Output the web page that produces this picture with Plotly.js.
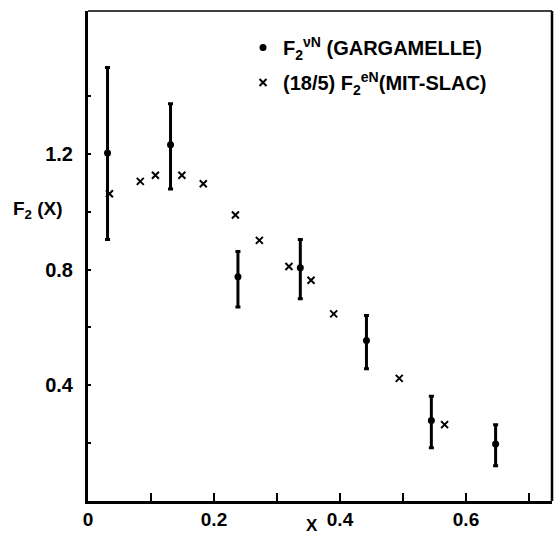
<!DOCTYPE html>
<html><head><meta charset="utf-8">
<script src="https://cdn.plot.ly/plotly-3.0.1.min.js"></script>
<style>body{margin:0;background:#fff}#c{width:560px;height:537px}</style>
</head><body><div id="c"></div>
<script>
// Gargamelle (neutrino) F2 data with asymmetric error bars
const garX = [0.031, 0.131, 0.238, 0.337, 0.442, 0.545, 0.647];
const garY = [1.203, 1.232, 0.775, 0.806, 0.555, 0.278, 0.197];
const garErrUp = [0.296, 0.141, 0.088, 0.098, 0.086, 0.084, 0.067];
const garErrDown = [0.299, 0.153, 0.104, 0.107, 0.098, 0.094, 0.075];
// MIT-SLAC (18/5) F2 eN
const slacX = [0.034, 0.083, 0.107, 0.149, 0.183, 0.234, 0.272, 0.319, 0.354, 0.390, 0.494, 0.566];
const slacY = [1.062, 1.105, 1.126, 1.126, 1.097, 0.989, 0.901, 0.811, 0.763, 0.647, 0.424, 0.264];
// Tick labels
const xLabelVals = [0, 0.2, 0.4, 0.6];
const xLabelText = ['0', '0.2', '0.4', '0.6'];
const xMarkVals = [0.1, 0.3, 0.5, 0.7];
const yLabelVals = [0.4, 0.8, 1.2];
const yLabelText = ['0.4', '0.8', '1.2'];
const yMarkVals = [0.2, 0.4, 0.6, 0.8, 1.0, 1.2, 1.4];
const garName = 'F<sub>2</sub><sup>νN</sup> (GARGAMELLE)';
const slacName = '(18/5) F<sub>2</sub><sup>eN</sup>(MIT-SLAC)';

const FONT = 'Liberation Sans, Arial, Helvetica, sans-serif';
const L = 88, R = 8, T = 11, B = 36, W = 560, H = 537;
const pw = W - L - R, ph = H - T - B;
const px = v => (v - L) / pw;
const py = v => (H - B - v) / ph;

const traces = [
  {
    x: garX, y: garY, type: 'scatter', mode: 'markers', name: garName,
    legendgroup: 'a',
    marker: {symbol: 'circle', size: 7, color: '#000'},
    error_y: {type: 'data', symmetric: false, array: garErrUp, arrayminus: garErrDown,
              color: '#000', thickness: 3, width: 2.5}
  },
  {
    x: slacX, y: slacY, type: 'scatter', mode: 'markers', name: slacName,
    legendgroup: 'b',
    marker: {symbol: 'x-thin', size: 7, color: '#000', line: {width: 2, color: '#000'}}
  }
];

const layout = {
  width: W, height: H,
  margin: {l: L, r: R, t: T, b: B},
  paper_bgcolor: '#fff', plot_bgcolor: '#fff',
  font: {family: FONT, color: '#000', size: 16},
  showlegend: true,
  legend: {
    x: px(243), y: py(28), xanchor: 'left', yanchor: 'top',
    bgcolor: 'rgba(0,0,0,0)', borderwidth: 0,
    font: {family: FONT, size: 20, weight: 'bold', color: '#000'},
    traceorder: 'grouped', tracegroupgap: 6
  },
  xaxis: {
    range: [0, pw / 630], showgrid: false, zeroline: false,
    showline: true, linewidth: 2.5, linecolor: '#000',
    tickmode: 'array', tickvals: xLabelVals, ticktext: xLabelText,
    ticks: 'inside', ticklen: 8, tickwidth: 2.5, tickcolor: '#000',
    tickfont: {family: FONT, size: 19, weight: 'bold'},
    minor: {tickmode: 'array', tickvals: xMarkVals, ticks: 'inside',
            ticklen: 8, tickwidth: 2.5, tickcolor: '#000', showgrid: false},
    fixedrange: true
  },
  yaxis: {
    range: [0, ph / 289.25], showgrid: false, zeroline: false,
    showline: true, linewidth: 3, linecolor: '#000',
    tickmode: 'array', tickvals: yLabelVals, ticktext: yLabelText,
    ticks: 'outside', ticklen: 8, tickwidth: 1, tickcolor: 'rgba(0,0,0,0)',
    tickfont: {family: FONT, size: 20, weight: 'bold'},
    minor: {tickmode: 'array', tickvals: yMarkVals, ticks: 'inside',
            ticklen: 3, tickwidth: 2, tickcolor: '#000', showgrid: false},
    fixedrange: true
  },
  shapes: [
    {type: 'line', xref: 'paper', yref: 'paper', x0: 0, x1: 1, y0: 1, y1: 1,
     line: {color: '#000', width: 1.5}},
    {type: 'line', xref: 'paper', yref: 'paper', x0: 1, x1: 1, y0: 0, y1: 1,
     line: {color: '#000', width: 2.5}}
  ],
  annotations: [
    {text: 'F<sub>2</sub> (X)', xref: 'paper', yref: 'paper', x: px(38), y: py(210),
     xanchor: 'center', yanchor: 'middle', showarrow: false,
     font: {family: FONT, size: 19, weight: 'bold'}},
    {text: 'X', xref: 'paper', yref: 'paper', x: px(312), y: py(537),
     xanchor: 'center', yanchor: 'bottom', showarrow: false,
     font: {family: FONT, size: 17, weight: 'bold'}}
  ]
};

Plotly.newPlot('c', traces, layout, {displayModeBar: false, staticPlot: true});
</script>
</body></html>
